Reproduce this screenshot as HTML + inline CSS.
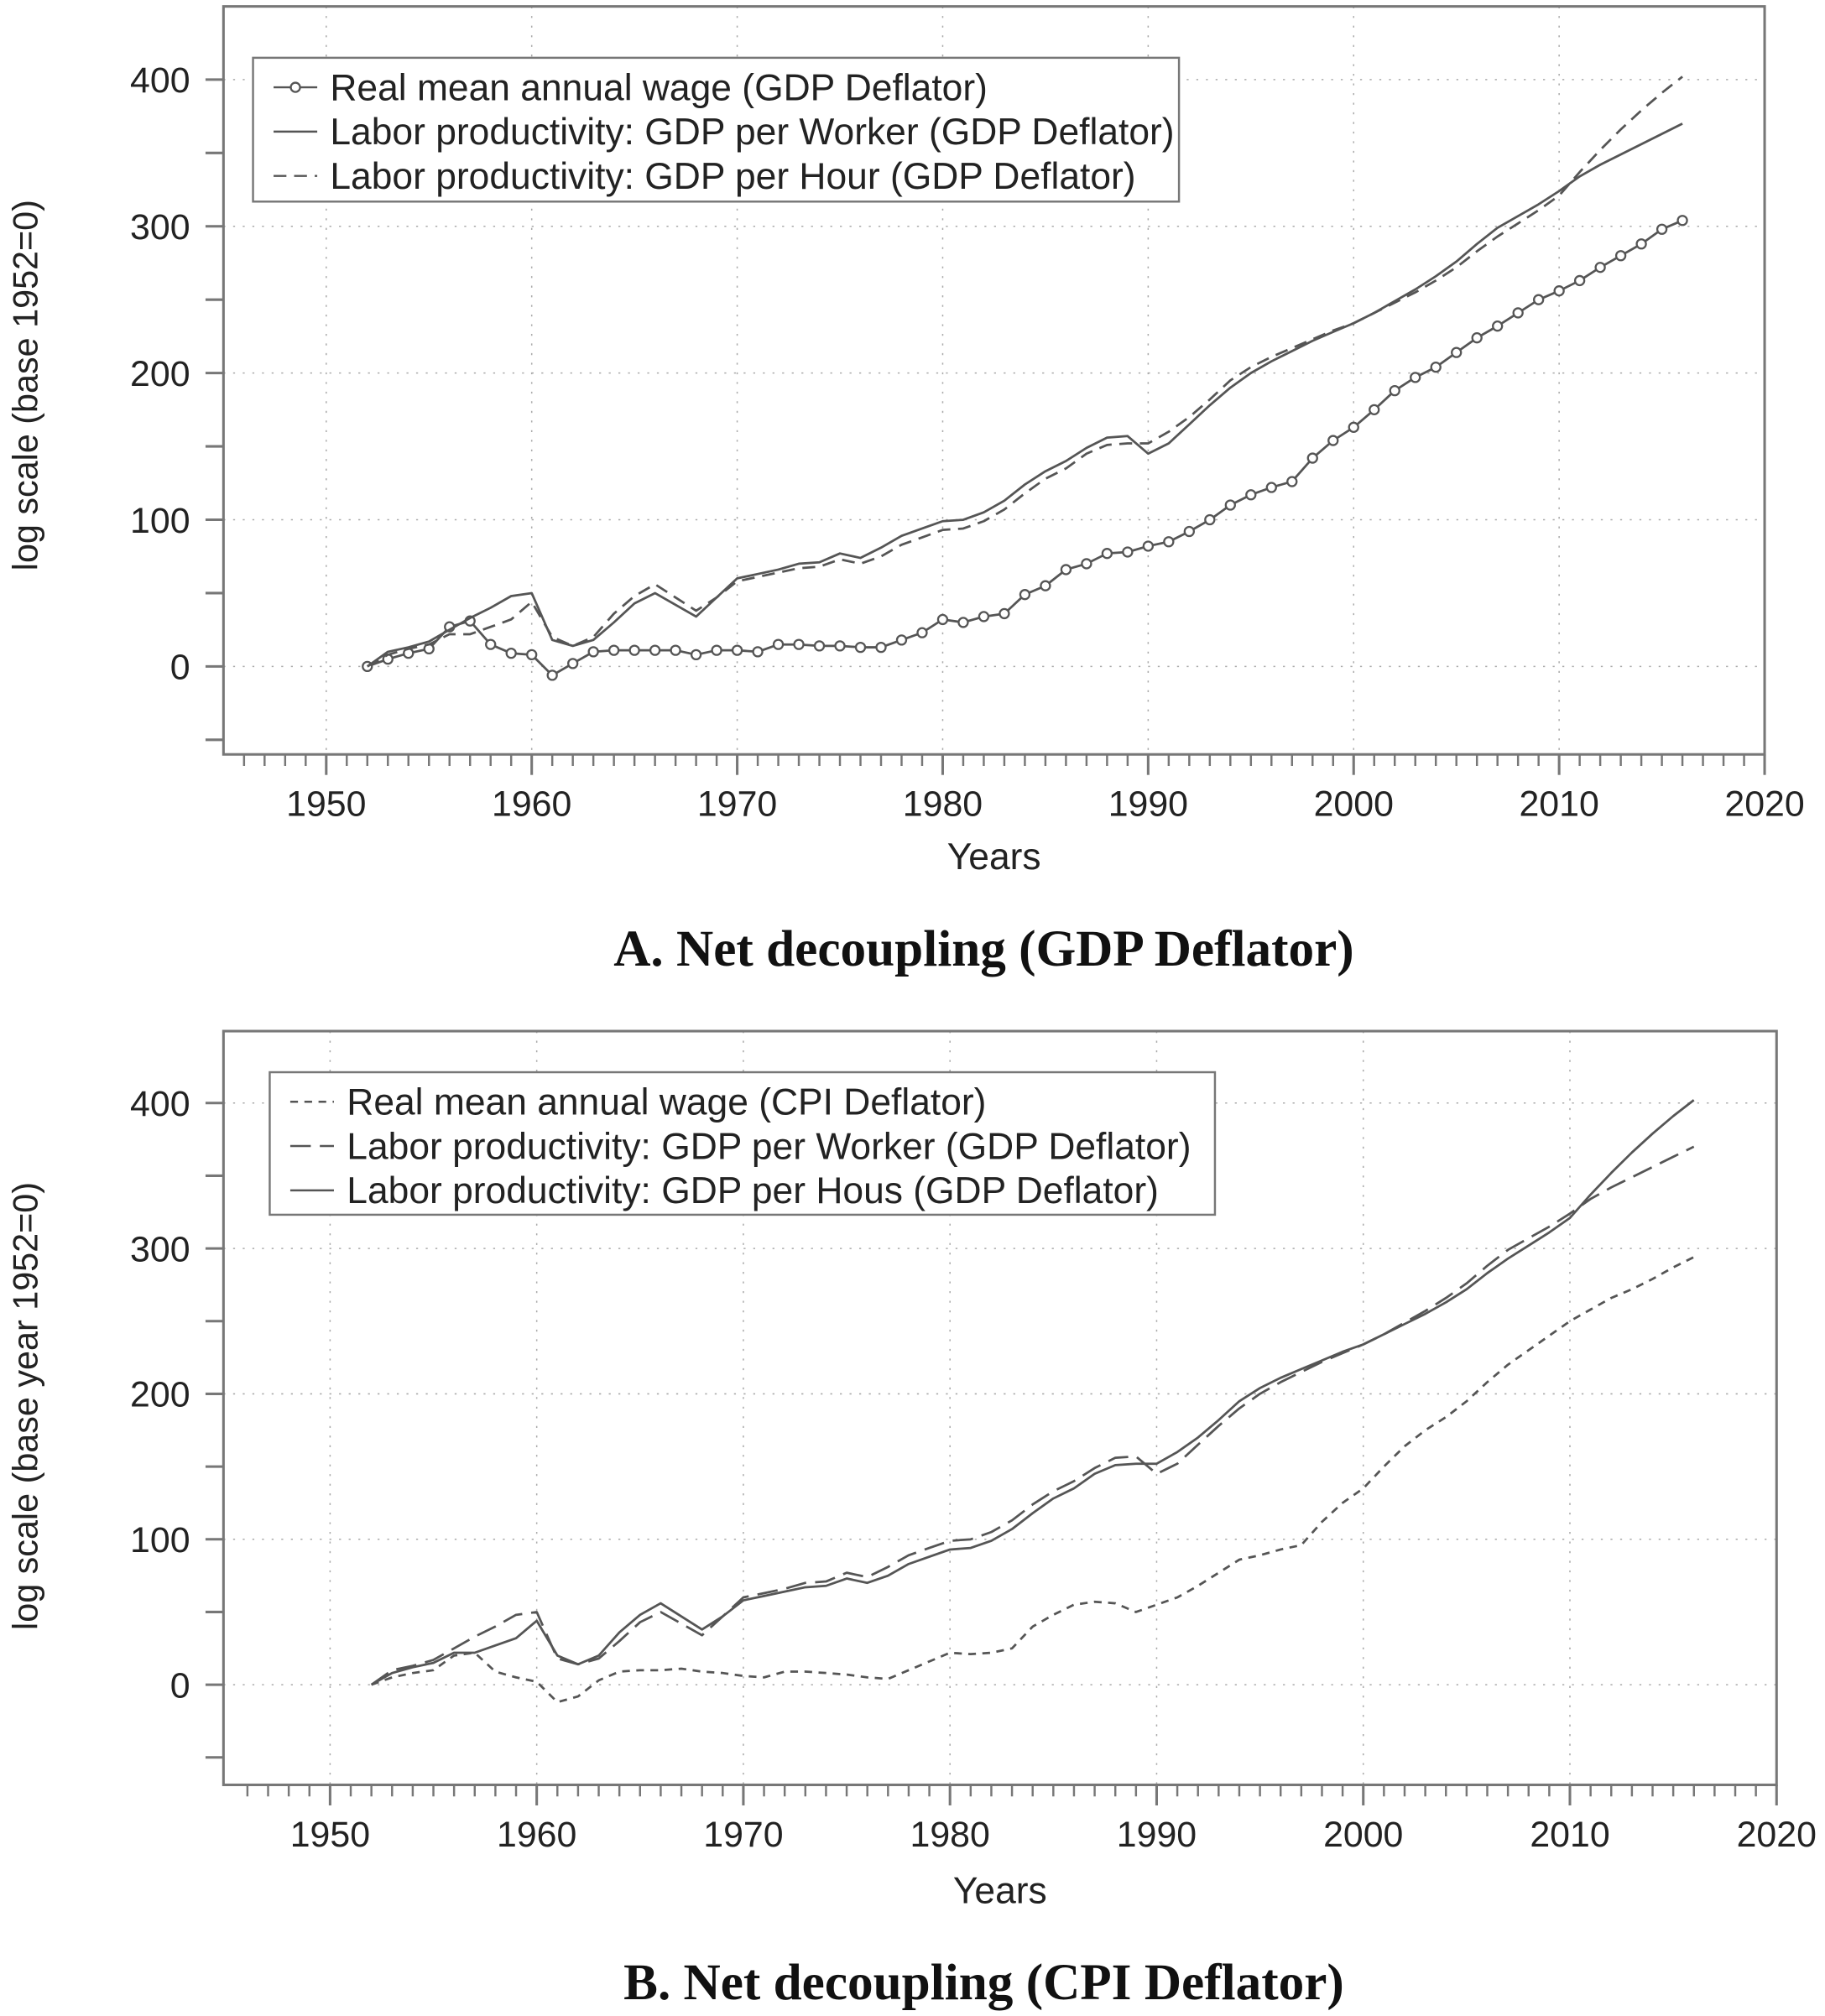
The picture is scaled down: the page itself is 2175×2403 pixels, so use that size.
<!DOCTYPE html>
<html><head><meta charset="utf-8"><style>
html,body{margin:0;padding:0;background:#fff}
svg{display:block}
.s{font-family:"Liberation Sans",sans-serif;fill:#222}
.t{font-family:"Liberation Serif",serif;fill:#111;font-weight:bold}
</style></head><body>
<svg id="c" width="2175" height="2403" viewBox="0 0 1421 1570" xmlns="http://www.w3.org/2000/svg"></svg>
<script>
const years = [];
for (let y = 1952; y <= 2016; y++) years.push(y);
const wageGdp = [0,5,9,12,27,31,15,9,8,-6,2,10,11,11,11,11,8,11,11,10,15,15,14,14,13,13,18,23,32,30,34,36,49,55,66,70,77,78,82,85,92,100,110,117,122,126,142,154,163,175,188,197,204,214,224,232,241,250,256,263,272,280,288,298,304];
const prodWorker = [0,10,13,17,25,33,40,48,50,18,14,18,30,43,50,42,34,47,60,63,66,70,71,77,74,81,89,94,99,100,105,113,124,133,140,149,156,157,145,152,165,178,190,200,208,215,222,228,234,241,249,257,266,276,288,299,307,315,324,334,342,349,356,363,370];
const prodHour = [0,8,12,15,22,22,27,32,44,20,14,20,36,48,56,47,38,47,58,61,64,67,68,73,70,75,83,88,93,94,99,107,118,128,135,145,151,152,152,160,170,182,195,204,211,217,223,229,234,241,248,255,263,272,283,293,302,311,321,337,352,366,379,391,402];
const wageCpi = [0,5,8,10,20,22,9,5,2,-12,-8,3,9,10,10,11,9,8,6,5,9,9,8,7,5,4,10,16,22,21,22,25,40,48,55,57,56,50,55,60,68,77,86,89,93,96,112,125,135,150,164,175,184,195,208,220,230,240,250,258,266,272,279,287,294];
const yTicks = [0,100,200,300,400];
const xTicks = [1950,1960,1970,1980,1990,2000,2010,2020];

const NS = "http://www.w3.org/2000/svg";
const svg = document.getElementById('c');
function mk(tag, attrs, parent, txt){
  const e = document.createElementNS(NS, tag);
  for (const k in attrs) e.setAttribute(k, attrs[k]);
  if (txt !== undefined) e.textContent = txt;
  (parent || svg).appendChild(e);
  return e;
}

function panel(cfg){
  const g = mk('g', {});
  
  
  const X = v => cfg.x0 + (v - 1950) * cfg.xs;
  const Y = v => cfg.y0 - v * cfg.ys;
  const L = cfg.left, R = X(2020), T = cfg.top, B = cfg.bottom;
  xTicks.forEach(t => {
    const l = mk('line', {x1:X(t),x2:X(t),y1:T,y2:B,stroke:'#aaa','stroke-width':1,'stroke-dasharray':'1.5 6'}, g);
    
    
  });
  yTicks.forEach(t => {
    const l = mk('line', {x1:L,x2:R,y1:Y(t),y2:Y(t),stroke:'#aaa','stroke-width':1,'stroke-dasharray':'1.5 6'}, g);
    
    
  });
  const fr = mk('rect', {x:L,y:T,width:R-L,height:B-T,fill:'none',stroke:'#777','stroke-width':2}, g);
  
  
  for (let yr = 1946; yr <= 2020; yr++) {
    const major = yr % 10 === 0;
    mk('line', {x1:X(yr),x2:X(yr),y1:B,y2:B+(major?16:9),stroke:'#777','stroke-width':major?2:1.6}, g);
  }
  xTicks.forEach(t => {
    const tx = mk('text', {class:'s',x:X(t),y:B+48,'text-anchor':'middle','font-size':28}, g, String(t));
    
    
  });
  for (let v = -50; v <= 400; v += 50) {
    if (Y(v) > B) continue;
    mk('line', {x1:L-14,x2:L,y1:Y(v),y2:Y(v),stroke:'#777','stroke-width':2}, g);
  }
  yTicks.forEach(t => {
    const tx = mk('text', {class:'s',x:148,y:Y(t)+10,'text-anchor':'end','font-size':28}, g, String(t));
    
    
  });
  const yt = mk('text', {class:'s',x:0,y:0,'text-anchor':'middle','font-size':27,transform:`translate(29,${cfg.ytY}) rotate(-90)`}, g, cfg.ytitle);
  
  
  const xt = mk('text', {class:'s',x:(L+R)/2,y:cfg.xtY,'text-anchor':'middle','font-size':29}, g, 'Years');
  
  
  const pt = mk('text', {class:'t',x:766,y:cfg.ptY,'text-anchor':'middle','font-size':40}, g, cfg.ptitle);
  
  
  cfg.series.forEach(s => {
    const d = s.vals.map((v,i) => (i?'L':'M') + X(years[i]).toFixed(1) + ',' + Y(v).toFixed(1)).join(' ');
    const p = mk('path', {d, fill:'none', stroke:'#555','stroke-width':1.8,'stroke-dasharray':s.dash||'none','stroke-linejoin':'round'}, g);
    
    
    if (s.markers) s.vals.forEach((v,i) => {
      const c = mk('circle', {cx:X(years[i]),cy:Y(v),r:3.6,fill:'#fff',stroke:'#555','stroke-width':1.5}, g);
      
      
    });
  });
  const lg = cfg.legend;
  const lgG = mk('g', {}, g);
  
  
  mk('rect', {x:lg.x,y:lg.y,width:lg.w,height:lg.h,fill:'#fff',stroke:'#777','stroke-width':1.6}, lgG);
  cfg.series.forEach((s,i) => {
    const ry = lg.y + 23 + i*34.5;
    mk('line', {x1:lg.x+16,x2:lg.x+50,y1:ry,y2:ry,stroke:'#555','stroke-width':1.6,'stroke-dasharray':s.dash||'none'}, lgG);
    if (s.markers) mk('circle', {cx:lg.x+33,cy:ry,r:3.6,fill:'#fff',stroke:'#555','stroke-width':1.5}, lgG);
    const t = mk('text', {class:'s',x:lg.x+lg.tx,y:ry+10,'font-size':29}, lgG, s.label);
    
    
  });
}

panel({name:'panel-a', x0:254, xs:16.0, y0:519, ys:1.1425, left:174, top:5, bottom:587.5,
  ytitle:'log scale (base 1952=0)', ytY:300, xtY:677, ptY:752, ptitle:'A.  Net decoupling (GDP Deflator)',
  legend:{x:197,y:45,w:721,h:112,tx:60},
  series:[
    {name:'wage-gdp-line', vals:wageGdp, markers:true, dash:'none', label:'Real mean annual wage (GDP Deflator)'},
    {name:'productivity-worker-line', vals:prodWorker, label:'Labor productivity: GDP per Worker (GDP Deflator)'},
    {name:'productivity-hour-line', vals:prodHour, dash:'10 6', label:'Labor productivity: GDP per Hour (GDP Deflator)'}
  ]});
panel({name:'panel-b', x0:257, xs:16.09, y0:1312, ys:1.1325, left:174, top:803, bottom:1390,
  ytitle:'log scale (base year 1952=0)', ytY:1095, xtY:1482, ptY:1557, ptitle:'B.  Net decoupling (CPI Deflator)',
  legend:{x:210,y:835,w:736,h:111,tx:60},
  series:[
    {name:'wage-cpi-line', vals:wageCpi, dash:'6 5', label:'Real mean annual wage (CPI Deflator)'},
    {name:'productivity-worker-line', vals:prodWorker, dash:'16 7', label:'Labor productivity: GDP per Worker (GDP Deflator)'},
    {name:'productivity-hour-line', vals:prodHour, label:'Labor productivity: GDP per Hous (GDP Deflator)'}
  ]});
</script>
</body></html>
